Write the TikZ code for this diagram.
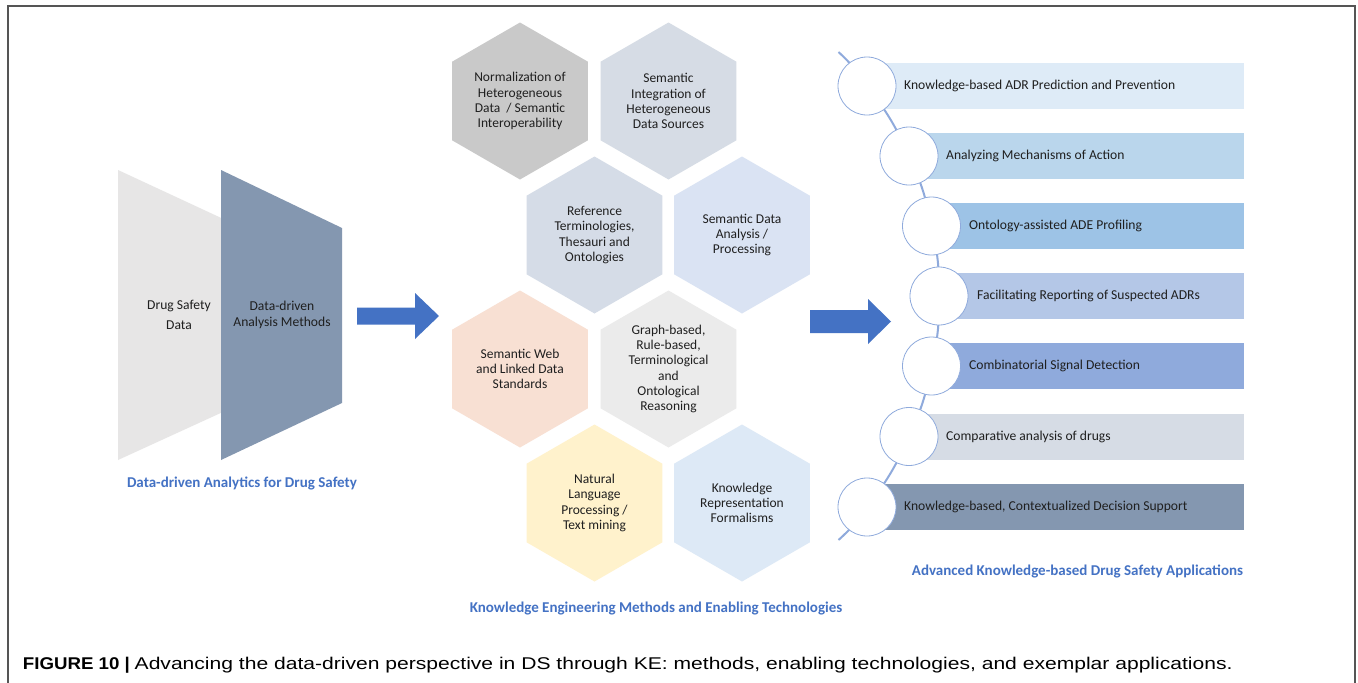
\documentclass[tikz,border=0pt]{standalone}
\usepackage{fontspec}
\setmainfont{Carlito}
\newfontfamily\capfont{Liberation Sans}
\usetikzlibrary{shapes.geometric,backgrounds}
\definecolor{txt}{HTML}{1F1F1F}
\definecolor{titleblue}{HTML}{4472C4}
\definecolor{arrowblue}{HTML}{4472C4}
\definecolor{circline}{HTML}{8FAADC}
\definecolor{framegray}{HTML}{555555}
\definecolor{lgray}{HTML}{E7E6E6}
\definecolor{dslate}{HTML}{8497B0}
\definecolor{hexA}{HTML}{C9C9C9}
\definecolor{hexB}{HTML}{D6DCE5}
\definecolor{hexC}{HTML}{D5DCE7}
\definecolor{hexD}{HTML}{DAE3F3}
\definecolor{hexE}{HTML}{F8E0D3}
\definecolor{hexF}{HTML}{EBEBEB}
\definecolor{hexG}{HTML}{FFF2CC}
\definecolor{hexH}{HTML}{DDE9F6}
\definecolor{barA}{HTML}{DEEBF7}
\definecolor{barB}{HTML}{BAD6EC}
\definecolor{barC}{HTML}{9DC3E6}
\definecolor{barD}{HTML}{B4C7E7}
\definecolor{barE}{HTML}{8FAADC}
\definecolor{barF}{HTML}{D6DCE5}
\definecolor{barG}{HTML}{8497B0}
\tikzset{
  hexbox/.style={shape=regular polygon, regular polygon sides=6, regular polygon rotate=30, minimum size=157pt, inner sep=0pt, draw=none},
  hextext/.style={align=center, font=\fontsize{13.5}{15.2}\selectfont, text=txt, inner sep=0pt},
  appbar/.style={anchor=west, minimum height=46pt, inner sep=0pt, draw=none},
  appcirc/.style={circle, minimum size=58pt, inner sep=0pt, fill=white, draw=circline, line width=0.8pt},
  applabel/.style={anchor=west, font=\fontsize{13.6}{15}\selectfont, text=txt, inner sep=0pt},
  sidelabel/.style={align=center, text=txt, inner sep=0pt},
  titletext/.style={font=\bfseries\fontsize{15}{18}\selectfont, text=titleblue, inner sep=0pt},
  bigarrow/.style={fill=arrowblue},
  conn/.style={draw=circline, line width=2pt},
  frameline/.style={draw=framegray, line width=1.5pt}
}
\begin{document}
\begin{tikzpicture}[x=1pt,y=-1pt]
\useasboundingbox (0,0) rectangle (1358,683);
\begin{pgfonlayer}{background}
\fill[white] (0,0) rectangle (1358,683);
\end{pgfonlayer}
% frame
\draw[frameline] (8,683) -- (8,6) -- (1355,6) -- (1355,683);
% left funnel shapes
\fill[lgray] (118,170) -- (260,236) -- (260,395) -- (118,460) -- cycle;
\fill[dslate] (221,170) -- (342,228) -- (342,403) -- (221,460) -- cycle;
\node[sidelabel, font=\fontsize{13.6}{20}\selectfont] (dsd) at (179,315) {Drug Safety\\Data};
\node[sidelabel, font=\fontsize{13.6}{16}\selectfont] (dam) at (282,315) {Data-driven\\Analysis Methods};
\node[titletext] (t1) at (242,483) {Data-driven Analytics for Drug Safety};
% arrows
\fill[bigarrow] (357,307.5) -- (415,307.5) -- (415,293) -- (439,316) -- (415,339) -- (415,324.5) -- (357,324.5) -- cycle;
\fill[bigarrow] (810,310) -- (868,310) -- (868,299) -- (891,321.5) -- (868,344) -- (868,333) -- (810,333) -- cycle;
% hexagons
\node[hexbox, fill=hexA] (h1) at (520,101) {};
\node[hexbox, fill=hexB] (h2) at (668.5,101) {};
\node[hexbox, fill=hexC] (h3) at (594.5,235) {};
\node[hexbox, fill=hexD] (h4) at (742,235) {};
\node[hexbox, fill=hexE] (h5) at (520,369) {};
\node[hexbox, fill=hexF] (h6) at (668.5,369) {};
\node[hexbox, fill=hexG] (h7) at (594.5,503) {};
\node[hexbox, fill=hexH] (h8) at (742,503) {};
\node[hextext] (h1t) at (h1) {Normalization of\\Heterogeneous\\Data~~/ Semantic\\Interoperability};
\node[hextext] (h2t) at (h2) {Semantic\\Integration of\\Heterogeneous\\Data Sources};
\node[hextext] (h3t) at (h3) {Reference\\Terminologies,\\Thesauri and\\Ontologies};
\node[hextext] (h4t) at (h4) {Semantic Data\\Analysis /\\Processing};
\node[hextext] (h5t) at (h5) {Semantic Web\\and Linked Data\\Standards};
\node[hextext] (h6t) at (h6) {Graph-based,\\Rule-based,\\Terminological\\and\\Ontological\\Reasoning};
\node[hextext] (h7t) at (h7) {Natural\\Language\\Processing /\\Text mining};
\node[hextext] (h8t) at (h8) {Knowledge\\Representation\\Formalisms};
\node[titletext] (t2) at (656,609) {Knowledge Engineering Methods and Enabling Technologies};
% application bars
\node[appbar, fill=barA, minimum width=377pt] (r1) at (867,86) {};
\node[appbar, fill=barB, minimum width=335pt] (r2) at (909,156) {};
\node[appbar, fill=barC, minimum width=312.5pt] (r3) at (931.5,226) {};
\node[appbar, fill=barD, minimum width=305pt] (r4) at (939,296) {};
\node[appbar, fill=barE, minimum width=312.5pt] (r5) at (931.5,366) {};
\node[appbar, fill=barF, minimum width=335pt] (r6) at (909,436.5) {};
\node[appbar, fill=barG, minimum width=377pt] (r7) at (867,507) {};
\node[appcirc] (c1) at (867,86) {};
\node[appcirc] (c2) at (909,156) {};
\node[appcirc] (c3) at (931.5,226) {};
\node[appcirc] (c4) at (939,296) {};
\node[appcirc] (c5) at (931.5,366) {};
\node[appcirc] (c6) at (909,436.5) {};
\node[appcirc] (c7) at (867,507) {};
\coordinate (ctop) at (838.5,52);
\coordinate (cbot) at (838.5,540);
\begin{pgfonlayer}{background}
\draw[conn] (ctop) to[bend left=7] (c1.center) to[bend left=7] (c2.center) to[bend left=7] (c3.center) to[bend left=7] (c4.center) to[bend left=7] (c5.center) to[bend left=7] (c6.center) to[bend left=7] (c7.center) to[bend left=7] (cbot);
\end{pgfonlayer}
\node[applabel] (a1) at (904,86) {Knowledge-based ADR Prediction and Prevention};
\node[applabel] (a2) at (946,156) {Analyzing Mechanisms of Action};
\node[applabel] (a3) at (969,226) {Ontology-assisted ADE Profiling};
\node[applabel] (a4) at (977,296) {Facilitating Reporting of Suspected ADRs};
\node[applabel] (a5) at (969,366) {Combinatorial Signal Detection};
\node[applabel] (a6) at (946,436.5) {Comparative analysis of drugs};
\node[applabel] (a7) at (904,507) {Knowledge-based, Contextualized Decision Support};
\node[titletext] (t3) at (1077.5,571) {Advanced Knowledge-based Drug Safety Applications};
% caption
\node[anchor=base west, inner sep=0pt, font=\capfont\fontsize{17}{20}\selectfont, text=black] (cap) at (22.7,669.5) {\scalebox{1.1}[1]{\textbf{FIGURE 10 |}} \scalebox{1.24}[1]{Advancing the data-driven perspective in DS through KE: methods, enabling technologies, and exemplar applications.}};
\end{tikzpicture}
\end{document}
